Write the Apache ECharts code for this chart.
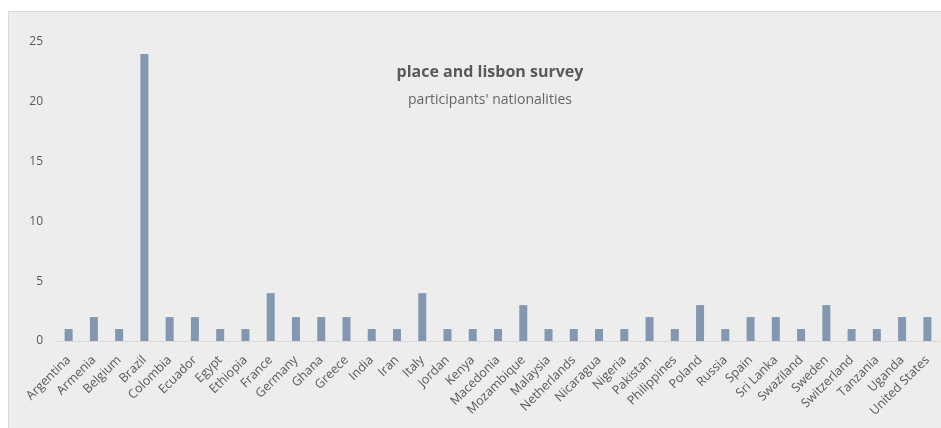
<!DOCTYPE html>
<html>
<head>
<meta charset="utf-8">
<script src="https://cdn.jsdelivr.net/npm/echarts@6/dist/echarts.min.js"></script>
<style>
  html, body { margin: 0; padding: 0; background: #fff; }
  #chart { width: 941px; height: 428px; }
</style>
</head>
<body>
<div id="chart"></div>
<script>
var countries = ['Argentina', 'Armenia', 'Belgium', 'Brazil', 'Colombia', 'Ecuador', 'Egypt', 'Ethiopia',
  'France', 'Germany', 'Ghana', 'Greece', 'India', 'Iran', 'Italy', 'Jordan', 'Kenya', 'Macedonia',
  'Mozambique', 'Malaysia', 'Netherlands', 'Nicaragua', 'Nigeria', 'Pakistan', 'Philippines', 'Poland',
  'Russia', 'Spain', 'Sri Lanka', 'Swaziland', 'Sweden', 'Switzerland', 'Tanzania', 'Uganda', 'United States'];
var participants = [1, 2, 1, 24, 2, 2, 1, 1,
  4, 2, 2, 2, 1, 1, 4, 1, 1, 1,
  3, 1, 1, 1, 1, 2, 1, 3,
  1, 2, 2, 1, 3, 1, 1, 2, 2];
var yTicks = [0, 5, 10, 15, 20, 25];

(function () {
    var chart = echarts.init(document.getElementById('chart'));
    var font = 'Open Sans';

    var option = {
        backgroundColor: '#fff',
        animation: false,
        graphic: [{
            type: 'rect',
            z: -10,
            shape: { x: 8.5, y: 11.5, width: 940, height: 430 },
            style: { fill: '#ededed', stroke: '#d9d9d9', lineWidth: 1 }
        }],
        title: [{
            text: 'place and lisbon survey',
            left: 485,
            top: 59,
            textAlign: 'center',
            textStyle: { color: '#595959', fontSize: 16, fontWeight: 'bold', fontFamily: font }
        }, {
            text: "participants' nationalities",
            left: 485,
            top: 88,
            textAlign: 'center',
            textStyle: { color: '#666666', fontSize: 14, fontWeight: 'normal', fontFamily: font }
        }],
        grid: {
            left: 56,
            right: 1,
            top: 42,
            bottom: 87,
            containLabel: false
        },
        xAxis: {
            type: 'category',
            data: countries,
            axisLine: { lineStyle: { color: '#d9d9d9', width: 1 } },
            axisTick: { show: false },
            axisLabel: {
                interval: 0,
                rotate: 45,
                margin: 17,
                color: '#595959',
                fontSize: 12.5,
                fontFamily: font
            }
        },
        yAxis: {
            type: 'value',
            min: yTicks[0],
            max: yTicks[yTicks.length - 1],
            interval: 5,
            axisLine: { show: false },
            axisTick: { show: false },
            splitLine: { show: false },
            axisLabel: {
                margin: 13,
                color: '#595959',
                fontSize: 12,
                fontFamily: font
            }
        },
        series: [{
            name: 'participants',
            type: 'bar',
            data: participants,
            barWidth: 8,
            itemStyle: { color: '#8497b0' }
        }]
    };

    chart.setOption(option);
})();
</script>
</body>
</html>
